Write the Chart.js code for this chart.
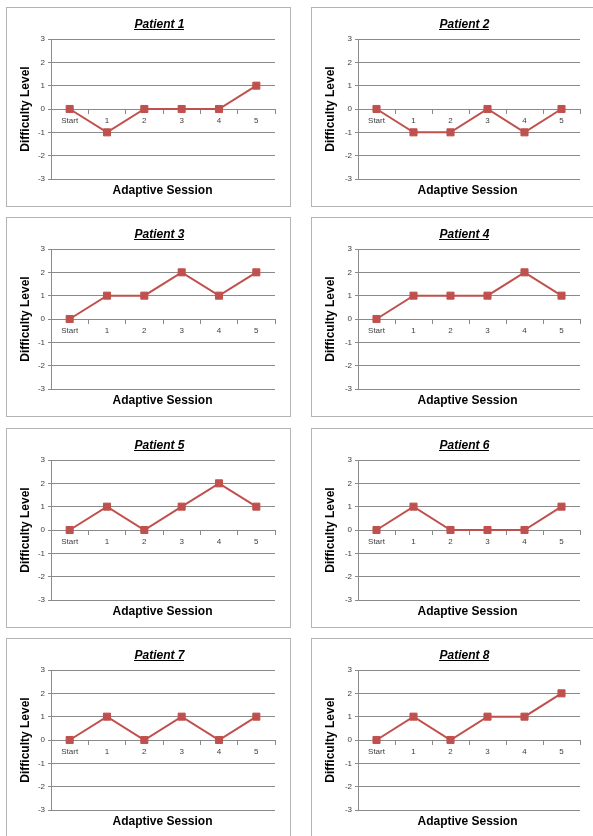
<!DOCTYPE html>
<html>
<head>
<meta charset="utf-8">
<title>Patient difficulty levels</title>
<script src="https://cdn.jsdelivr.net/npm/chart.js@4.4.1/dist/chart.umd.min.js"></script>
<style>
  html, body { margin:0; padding:0; background:#fff; }
  body { width:593px; height:836px; overflow:hidden; position:relative; }
  .panel { position:absolute; width:283px; height:198px; border:1px solid #b4b4b4; background:#fff; }
  .panel canvas { display:block; }
</style>
</head>
<body>
<div id="grid"></div>
<script>
// ── Data ─────────────────────────────────────────────────────
const SESSIONS = ['Start', '1', '2', '3', '4', '5'];
const PATIENTS = ['Patient 1','Patient 2','Patient 3','Patient 4','Patient 5','Patient 6','Patient 7','Patient 8'];

const p1 = [0, -1, 0, 0, 0, 1];
const p2 = [0, -1, -1, 0, -1, 0];
const p3 = [0, 1, 1, 2, 1, 2];
const p4 = [0, 1, 1, 1, 2, 1];
const p5 = [0, 1, 0, 1, 2, 1];
const p6 = [0, 1, 0, 0, 0, 1];
const p7 = [0, 1, 0, 1, 0, 1];
const p8 = [0, 1, 0, 1, 1, 2];
const SERIES = [p1, p2, p3, p4, p5, p6, p7, p8];

const Y_MIN = -3, Y_MAX = 3;
const Y_TITLE = 'Difficulty Level';
const X_TITLE = 'Adaptive Session';

// ── Look ─────────────────────────────────────────────────────
const RED   = '#c0504d';
const GRID  = '#8a8a8a';
const FONT  = "'Liberation Sans', Arial, sans-serif";
const COL_X = [6, 311];
const ROW_Y = [7, 217, 428, 638];

// draws the underlined italic title and the bottom axis caption
const captions = {
  id: 'captions',
  afterDraw(chart, args, opts) {
    const ctx = chart.ctx;
    ctx.save();
    ctx.fillStyle = '#000';
    ctx.textAlign = 'center';
    ctx.textBaseline = 'alphabetic';

    ctx.font = `italic bold 12px ${FONT}`;
    const w = ctx.measureText(opts.title).width;
    ctx.fillText(opts.title, opts.cx, 20);
    ctx.fillRect(Math.round(opts.cx - w / 2), 21, Math.round(w), 1);

    ctx.font = `bold 12px ${FONT}`;
    ctx.fillText(X_TITLE, opts.cx + 3, 186);
    ctx.restore();
  }
};

function makePanel(i) {
  const col = i % 2, row = Math.floor(i / 2);
  const div = document.createElement('div');
  div.className = 'panel';
  div.style.left = COL_X[col] + 'px';
  div.style.top  = ROW_Y[row] + 'px';
  const cv = document.createElement('canvas');
  cv.width = 283; cv.height = 198;
  div.appendChild(cv);
  document.getElementById('grid').appendChild(div);

  const yWidth = col === 0 ? 44 : 46;

  return new Chart(cv, {
    type: 'line',
    data: {
      labels: SESSIONS,
      datasets: [{
        label: PATIENTS[i],
        data: SERIES[i],
        borderColor: RED,
        backgroundColor: RED,
        borderWidth: 2,
        pointStyle: 'rect',
        pointRadius: 5,
        pointBorderWidth: 1,
        pointBackgroundColor: RED,
        pointBorderColor: RED,
        tension: 0
      }]
    },
    options: {
      responsive: false,
      animation: false,
      layout: { padding: { top: 31, bottom: 27, left: 0, right: 15 } },
      plugins: {
        legend: { display: false },
        tooltip: { enabled: false },
        captions: { title: PATIENTS[i], cx: 152.5 }
      },
      scales: {
        x: {
          type: 'category',
          position: { y: 0 },
          offset: true,
          grid: { display: true, offset: true, drawOnChartArea: false, drawTicks: true, tickLength: 4, color: GRID },
          border: { display: true, color: GRID, width: 1 },
          ticks: { color: '#404040', font: { family: FONT, size: 8 }, padding: 3, maxRotation: 0, autoSkip: false }
        },
        y: {
          min: Y_MIN, max: Y_MAX,
          afterFit(scale) { scale.width = yWidth; },
          grid: { color: GRID, lineWidth: 1, drawTicks: true, tickLength: 3 },
          border: { display: true, color: GRID, width: 1 },
          ticks: { stepSize: 1, color: '#404040', font: { family: FONT, size: 8 }, padding: 3 },
          title: {
            display: true, text: Y_TITLE, color: '#000',
            font: { family: FONT, size: 12, weight: 'bold' },
            padding: { top: 11, bottom: 0 }
          }
        }
      }
    },
    plugins: [captions]
  });
}

SERIES.forEach((s, i) => makePanel(i));
</script>
</body>
</html>
